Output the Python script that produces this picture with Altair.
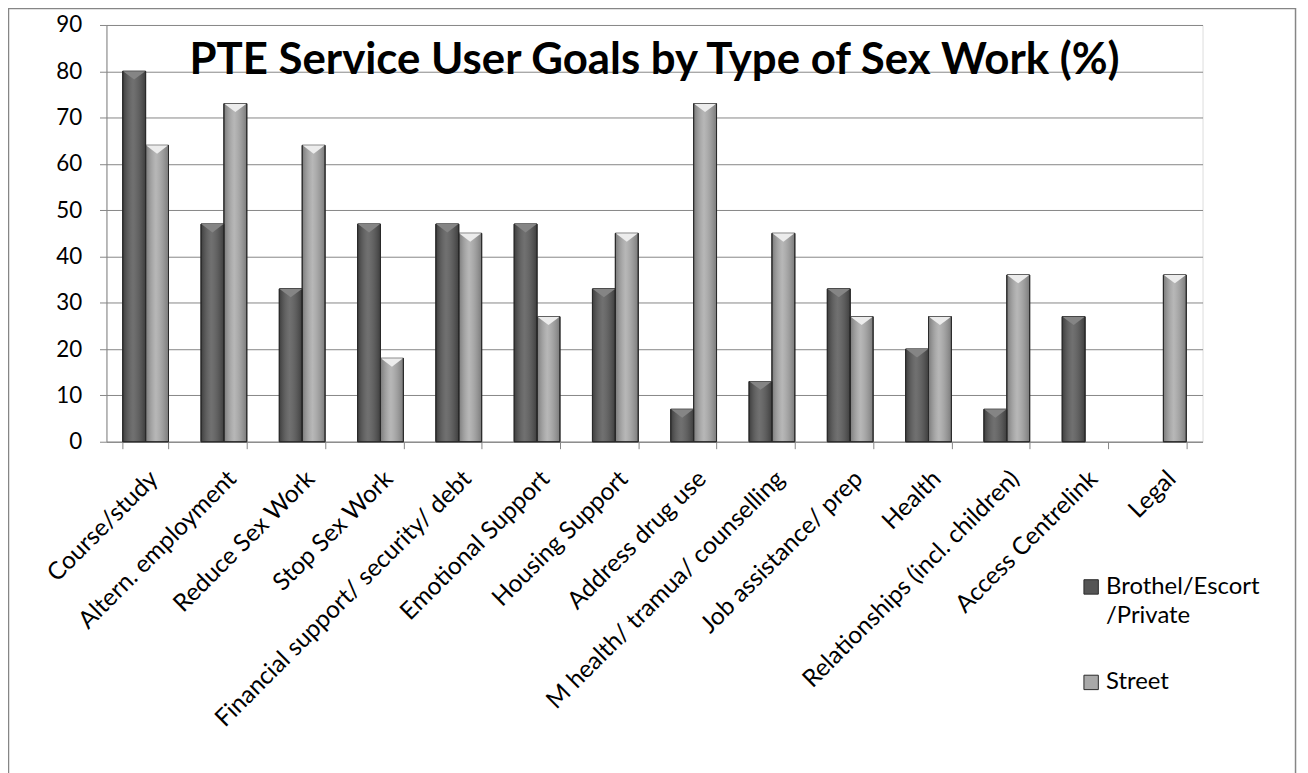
import altair as alt
import pandas as pd

categories = ["Course/study", "Altern. employment", "Reduce Sex Work", "Stop Sex Work",
              "Financial support/ security/ debt", "Emotional Support", "Housing Support",
              "Address drug use", "M health/ tramua/ counselling", "Job assistance/ prep",
              "Health", "Relationships (incl. children)", "Access Centrelink", "Legal"]
brothel = [80, 47, 33, 47, 47, 47, 33, 7, 13, 33, 20, 7, 27, 0]
street = [64, 73, 64, 18, 45, 27, 45, 73, 45, 27, 27, 36, 0, 36]
series = ["Brothel/Escort/Private", "Street"]
legend_lines = ["Brothel/Escort", "/Private", "Street"]
title_text = "PTE Service User Goals by Type of Sex Work (%)"
y_ticks = [0, 10, 20, 30, 40, 50, 60, 70, 80, 90]
colors = ["#555555", "#a9a9a9"]

rows = []
for c, b, s in zip(categories, brothel, street):
    rows.append({"cat": c, "series": series[0], "value": b})
    rows.append({"cat": c, "series": series[1], "value": s})
df = pd.DataFrame(rows)

W, H = 1102, 419
FONT = "Lato"
GRID = "#868686"

x_enc = alt.X("cat:N", sort=categories, title=None,
              scale=alt.Scale(paddingInner=0.415, paddingOuter=0.2075),
              axis=alt.Axis(labelAngle=-45, labelFont=FONT, labelFontSize=24.5, labelColor="black",
                            labelPadding=18, tickBand="extent", tickSize=7, tickColor=GRID,
                            domainColor=GRID, labelLimit=500, grid=False))
y_enc = alt.Y("value:Q", title=None,
              scale=alt.Scale(domain=[0, 90], nice=False),
              axis=alt.Axis(values=y_ticks, labelFont=FONT, labelFontSize=22.5, labelColor="black",
                            tickSize=7, tickColor=GRID, domainColor=GRID, gridColor=GRID,
                            labelPadding=18))
x_off = alt.XOffset("series:N", sort=series, scale=alt.Scale(paddingInner=0, paddingOuter=0))

base = alt.Chart(df).transform_filter("datum.value > 0")

bars = base.mark_bar(stroke="#2a2a2a", strokeWidth=1).encode(
    x=x_enc,
    y=y_enc,
    xOffset=x_off,
    color=alt.Color("series:N", sort=series,
                    scale=alt.Scale(domain=series, range=colors), legend=None),
)

shade = base.mark_bar(
    fill=alt.LinearGradient(gradient="linear", x1=0, x2=1, y1=0, y2=0, stops=[
        alt.GradientStop(offset=0, color="rgba(0,0,0,0.28)"),
        alt.GradientStop(offset=0.45, color="rgba(255,255,255,0.16)"),
        alt.GradientStop(offset=1, color="rgba(0,0,0,0.28)"),
    ]),
    stroke="#2a2a2a", strokeWidth=1,
).encode(
    x=alt.X("cat:N", sort=categories),
    y=alt.Y("value:Q"),
    xOffset=x_off,
)

caps = base.mark_point(shape="M-1,0L1,0L0,0.75Z", size=500, filled=True, opacity=1,
                       strokeWidth=0).encode(
    x=alt.X("cat:N", sort=categories),
    y=alt.Y("value:Q"),
    xOffset=x_off,
    fill=alt.condition("datum.series == 'Street'", alt.value("#ececec"), alt.value("#858585")),
)

one = pd.DataFrame({"a": [0]})
frame = alt.Chart(one).mark_rect(fill=None, stroke="#868686", strokeWidth=1.5).encode(
    x=alt.value(-98.5), x2=alt.value(1195.5), y=alt.value(-16.5), y2=alt.value(760)
)
title = alt.Chart(one).mark_text(font=FONT, fontSize=44, fontWeight="bold", color="black",
                                 align="center", baseline="alphabetic").encode(
    x=alt.value(W / 2), y=alt.value(49), text=alt.value(title_text)
)

# manual legend (symbols + labels)
LX, LY1, LY2, LINE = 990, 565, 661, 29
sym1 = alt.Chart(one).mark_square(size=210, filled=True, color=colors[0], stroke="#2a2a2a",
                                  strokeWidth=1, opacity=1).encode(x=alt.value(LX), y=alt.value(LY1))
sym2 = alt.Chart(one).mark_square(size=210, filled=True, color=colors[1], stroke="#2a2a2a",
                                  strokeWidth=1, opacity=1).encode(x=alt.value(LX), y=alt.value(LY2))
leg_text_props = dict(font=FONT, fontSize=24, color="black", align="left", baseline="middle")
t1 = alt.Chart(one).mark_text(**leg_text_props).encode(
    x=alt.value(LX + 15), y=alt.value(LY1), text=alt.value(legend_lines[0]))
t2 = alt.Chart(one).mark_text(**leg_text_props).encode(
    x=alt.value(LX + 15), y=alt.value(LY1 + LINE), text=alt.value(legend_lines[1]))
t3 = alt.Chart(one).mark_text(**leg_text_props).encode(
    x=alt.value(LX + 15), y=alt.value(LY2), text=alt.value(legend_lines[2]))

chart = alt.layer(frame, bars, shade, caps, title, sym1, sym2, t1, t2, t3).properties(
    width=W, height=H,
    autosize=alt.AutoSizeParams(type="none"),
    padding={"left": 99, "top": 15, "right": 98, "bottom": 331},
).configure_view(stroke=None).configure(background="white")

chart.save("out.html", embed_options={"renderer": "svg", "actions": False})
